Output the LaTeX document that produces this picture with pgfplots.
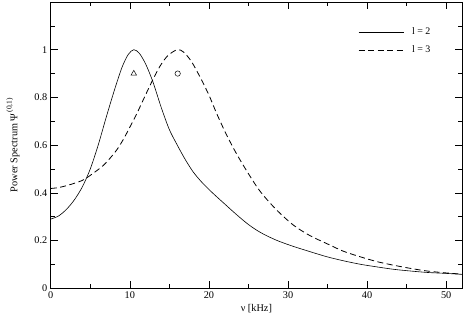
\documentclass[border=0pt]{standalone}
\usepackage{fontspec}
\setmainfont{Liberation Serif}
\usepackage{pgfplots}
\pgfplotsset{compat=1.18}
\usetikzlibrary{calc}

\begin{document}
\begin{tikzpicture}
\begin{axis}[
  scale only axis,
  width=411bp, height=286bp,
  xmin=0, xmax=52, ymin=0, ymax=1.2,
  xtick={0,10,...,50}, minor xtick={5,15,...,45},
  ytick={0,0.2,...,1}, minor ytick={0.1,0.3,...,1.1},
  yticklabels={0,0.2,0.4,0.6,0.8,1},
  tick align=inside,
  major tick length=7bp, minor tick length=4bp,
  every tick/.style={black, line width=0.5bp},
  axis line style={line width=0.7bp},
  /pgf/number format/assume math mode=true,
  tick label style={font=\fontsize{10.3}{12}\selectfont},
  label style={font=\fontsize{10.3}{12}\selectfont},
  xlabel={ν [kHz]},
  ylabel={Power Spectrum  Ψ\raisebox{1.2ex}{\fontsize{7.5}{8}\selectfont\,(0,1)}},
  xlabel style={yshift=1bp},
  ylabel style={yshift=8bp},
  legend style={at={(0.74,0.925)}, anchor=north west, draw=none, fill=none,
    font=\fontsize{10}{12}\selectfont, row sep=6bp},
  legend cell align=left,
  legend image code/.code={\draw[#1] (0bp,0bp) -- (45bp,0bp); \path (51bp,0bp);},
]
\addplot[black, line width=0.6bp, smooth] coordinates {
(0,0.29) (1,0.303) (2,0.331) (3,0.371) (4,0.425) (5,0.50) (6,0.60) (7,0.715)
(8,0.825) (9,0.925) (9.8,0.98) (10.5,1.0) (11.2,0.985) (12,0.94) (12.9,0.867)
(14,0.755) (15,0.665) (16,0.6) (17,0.54) (18,0.488) (19,0.448) (20,0.414)
(21,0.383) (22,0.353) (23,0.323) (24,0.294) (25,0.267) (26,0.244) (27,0.225)
(28,0.209) (29,0.195) (30.7,0.175) (32.8,0.153) (34.9,0.132) (37,0.115)
(39.2,0.1) (41.3,0.089) (43.4,0.079) (45.5,0.072) (47.6,0.066) (50,0.062)
(52,0.058)
};
\addlegendentry{l = 2}
\addplot[black, line width=0.8bp, dash pattern=on 6bp off 3.5bp, smooth] coordinates {
(0,0.418) (1,0.422) (2,0.43) (3,0.44) (4,0.452) (4.56,0.463) (5.5,0.485)
(6.66,0.515) (7.5,0.545) (8.35,0.58) (9.2,0.625) (10,0.675) (10.9,0.733)
(11.7,0.79) (12.8,0.867) (13.8,0.93) (14.8,0.975) (16,1.0) (16.8,0.99)
(17.8,0.95) (18.9,0.884) (20,0.81) (21,0.731) (22.2,0.645) (23.5,0.563)
(25,0.48) (26.5,0.405) (28.5,0.33) (30.7,0.264) (32.8,0.22) (34.9,0.187)
(37,0.155) (39.2,0.131) (41.3,0.111) (43.4,0.096) (45.5,0.083) (47.6,0.072)
(50,0.064) (52,0.059)
};
\addlegendentry{l = 3}
\addplot[black, line width=0.5bp, only marks, mark=triangle, mark size=3.2bp, forget plot]
  coordinates {(10.5,0.9)};
\addplot[black, line width=0.5bp, only marks, mark=o, mark size=2.7bp, forget plot]
  coordinates {(16.05,0.9)};
\end{axis}
\pgfresetboundingbox
\path ($(current axis.south west)+(-50.7bp,-27bp)$) rectangle ($(current axis.north east)+(1bp,2bp)$);
\end{tikzpicture}
\end{document}
